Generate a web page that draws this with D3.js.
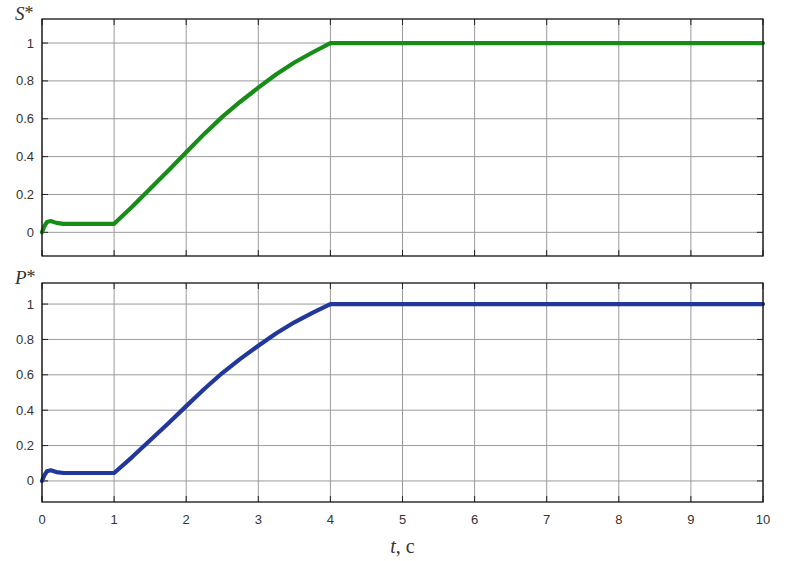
<!DOCTYPE html>
<html>
<head>
<meta charset="utf-8">
<script src="https://cdn.jsdelivr.net/npm/d3@7"></script>
<style>
  html, body { margin: 0; padding: 0; background: #fff; }
  svg { display: block; }
</style>
</head>
<body>
<div id="chart"></div>
<script>
// time samples (s) and the two normalised responses
var timeS = [0, 0.03, 0.07, 0.12, 0.2, 0.3, 1, 1.25, 1.5, 1.75, 2, 2.25, 2.5, 2.75, 3, 3.25, 3.5, 3.75, 4, 5, 6, 7, 8, 9, 10];
var sValues = [0, 0.03, 0.055, 0.06, 0.05, 0.045, 0.045, 0.135, 0.23, 0.325, 0.423, 0.52, 0.61, 0.69, 0.764, 0.835, 0.897, 0.95, 1, 1, 1, 1, 1, 1, 1];
var pValues = [0, 0.03, 0.055, 0.06, 0.05, 0.045, 0.045, 0.135, 0.23, 0.325, 0.423, 0.52, 0.61, 0.69, 0.764, 0.835, 0.897, 0.95, 1, 1, 1, 1, 1, 1, 1];
var xTicks = [0, 1, 2, 3, 4, 5, 6, 7, 8, 9, 10];
var yTicks = [0, 0.2, 0.4, 0.6, 0.8, 1];

(function () {
  "use strict";
  var W = 788, H = 561;
  var L = 42, R = 763;
  var svg = d3.select("#chart").append("svg").attr("width", W).attr("height", H);
  var x = d3.scaleLinear().domain([0, 10]).range([L, R]);

  var panels = [
    { top: 19, bottom: 256, dom: [-0.125, 1.127], vals: sValues, color: "#178c17", label: "S", showX: false },
    { top: 283, bottom: 502, dom: [-0.119, 1.119], vals: pValues, color: "#22379b", label: "P", showX: true }
  ];

  panels.forEach(function (p) {
    var y = d3.scaleLinear().domain(p.dom).range([p.bottom, p.top]);
    var g = svg.append("g");

    // grid
    xTicks.forEach(function (t) {
      g.append("line").attr("x1", x(t)).attr("x2", x(t)).attr("y1", p.top).attr("y2", p.bottom)
        .attr("stroke", "#9a9a9a").attr("stroke-width", 1);
    });
    yTicks.forEach(function (t) {
      g.append("line").attr("x1", L).attr("x2", R).attr("y1", y(t)).attr("y2", y(t))
        .attr("stroke", "#9a9a9a").attr("stroke-width", 1);
    });

    // tick marks inside the frame
    xTicks.forEach(function (t) {
      g.append("line").attr("x1", x(t)).attr("x2", x(t)).attr("y1", p.top).attr("y2", p.top + 6).attr("stroke", "#222");
      g.append("line").attr("x1", x(t)).attr("x2", x(t)).attr("y1", p.bottom).attr("y2", p.bottom - 6).attr("stroke", "#222");
    });
    yTicks.forEach(function (t) {
      g.append("line").attr("x1", L).attr("x2", L + 6).attr("y1", y(t)).attr("y2", y(t)).attr("stroke", "#222");
      g.append("line").attr("x1", R).attr("x2", R - 6).attr("y1", y(t)).attr("y2", y(t)).attr("stroke", "#222");
    });

    // y tick labels
    yTicks.forEach(function (t) {
      g.append("text").attr("x", 34).attr("y", y(t) + 4.5).attr("text-anchor", "end")
        .attr("font-family", "Liberation Sans, Arial, sans-serif").attr("font-size", 13).attr("fill", "#333")
        .text(d3.format("~g")(t));
    });

    // curve
    var line = d3.line().x(function (d, i) { return x(timeS[i]); }).y(function (d) { return y(d); });
    g.append("path").attr("d", line(p.vals)).attr("fill", "none").attr("stroke", p.color)
      .attr("stroke-width", 4.2).attr("stroke-linejoin", "round").attr("stroke-linecap", "round");

    // frame
    g.append("rect").attr("x", L).attr("y", p.top).attr("width", R - L).attr("height", p.bottom - p.top)
      .attr("fill", "none").attr("stroke", "#111").attr("stroke-width", 1.3);

    // panel label
    var lab = g.append("text").attr("x", 15).attr("y", p.top + 0.5)
      .attr("font-family", "Liberation Serif, Times New Roman, serif").attr("font-size", 19).attr("fill", "#333");
    lab.append("tspan").attr("font-style", "italic").text(p.label);
    lab.append("tspan").attr("font-size", 18).attr("dy", -1).text("*");

    if (p.showX) {
      xTicks.forEach(function (t) {
        g.append("text").attr("x", x(t)).attr("y", p.bottom + 22).attr("text-anchor", "middle")
          .attr("font-family", "Liberation Sans, Arial, sans-serif").attr("font-size", 13).attr("fill", "#333")
          .text(t);
      });
      var xl = g.append("text").attr("x", x(5)).attr("y", 553).attr("text-anchor", "middle")
        .attr("font-family", "Liberation Serif, Times New Roman, serif").attr("font-size", 20).attr("fill", "#333");
      xl.append("tspan").attr("font-style", "italic").text("t");
      xl.append("tspan").text(", c");
    }
  });
})();
</script>
</body>
</html>
